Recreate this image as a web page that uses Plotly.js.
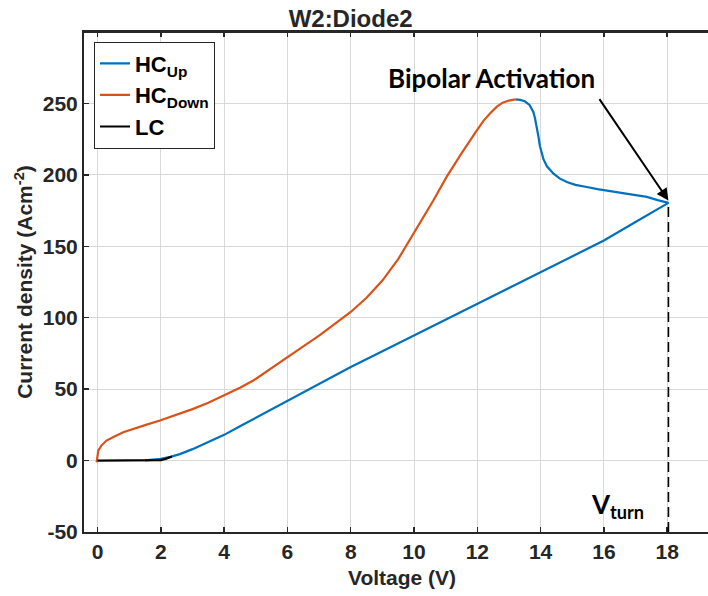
<!DOCTYPE html>
<html>
<head>
<meta charset="utf-8">
<script src="https://cdn.plot.ly/plotly-3.0.1.min.js"></script>
<style>
html,body{margin:0;padding:0;overflow:hidden;background:#fff;}
#chart{width:720px;height:596px;}
</style>
</head>
<body>
<div id="chart"></div>
<script>
// HC_Up (blue) : upward sweep, then back from the turn point to the peak
const hcUpV = [1.5, 1.8, 2.0, 2.3, 2.6, 3.0, 3.5, 4.0, 4.5, 5.0, 5.5, 6.0, 7.0, 8.0, 9.0, 10.0, 11.0, 12.0, 13.0, 14.0, 15.0, 16.0, 17.0, 17.6, 18.04, 17.7, 17.36, 16.8, 16.3, 15.8, 15.46, 15.1, 14.83, 14.6, 14.4, 14.2, 14.09, 14.02, 13.98, 13.93, 13.88, 13.82, 13.77, 13.65, 13.5, 13.35, 13.2];
const hcUpJ = [0.2, 0.5, 1.2, 2.6, 4.5, 8.0, 12.8, 18.0, 24.0, 30.0, 36.0, 42.0, 54.0, 65.5, 76.5, 87.5, 98.5, 109.5, 120.5, 131.5, 142.5, 154.0, 167.0, 174.5, 180.4, 182.3, 184.6, 186.5, 188.0, 190.0, 191.5, 193.0, 195.0, 197.5, 201.0, 206.0, 211.0, 216.0, 220.0, 227.0, 234.0, 240.0, 244.0, 249.0, 251.5, 252.5, 252.8];
// HC_Down (orange)
const hcDownV = [13.2, 13.0, 12.8, 12.61, 12.4, 12.2, 11.98, 11.7, 11.5, 11.24, 11.03, 10.61, 10.0, 9.87, 9.5, 9.0, 8.5, 8.0, 7.5, 7.0, 6.5, 6.0, 5.5, 4.92, 4.5, 3.97, 3.5, 3.0, 2.5, 1.97, 1.5, 1.2, 0.81, 0.5, 0.28, 0.12, 0.02, -0.03];
const hcDownJ = [252.8, 252.0, 250.5, 247.6, 243.0, 238.0, 231.0, 222.0, 215.0, 206.0, 198.6, 182.0, 159.0, 154.0, 141.0, 126.0, 114.0, 104.0, 95.5, 87.5, 80.0, 72.5, 64.5, 56.0, 51.0, 45.6, 40.5, 36.0, 32.0, 28.0, 24.8, 22.5, 19.8, 16.5, 14.0, 10.5, 7.0, -1.2];
// LC (black)
const lcV = [0, 0.5, 1.0, 1.5, 2.0, 2.15, 2.35];
const lcJ = [0, 0, 0, 0, 0.3, 1.2, 2.8];

const xTicks = [0, 2, 4, 6, 8, 10, 12, 14, 16, 18];
const yTicks = [-50, 0, 50, 100, 150, 200, 250];
const turnV = 18.04;
const turnJ = 181;

const axisFont = {family: 'Liberation Sans, Arial, sans-serif', size: 21, color: '#262626'};
const labelFont = {family: 'Lato, Calibri, sans-serif', size: 26, color: '#000'};

const traces = [
  {x: hcUpV, y: hcUpJ, mode: 'lines', name: '<b>HC<sub>Up</sub></b>', line: {color: '#0072BD', width: 2.2}},
  {x: hcDownV, y: hcDownJ, mode: 'lines', name: '<b>HC<sub>Down</sub></b>', line: {color: '#D95319', width: 2.2}},
  {x: lcV, y: lcJ, mode: 'lines', name: '<b>LC</b>', line: {color: '#000000', width: 2.2}}
];

const layout = {
  width: 720, height: 596,
  margin: {l: 84, r: 0, t: 32, b: 64},
  paper_bgcolor: '#fff', plot_bgcolor: '#fff',
  font: {family: 'Liberation Sans, Arial, sans-serif', size: 20, color: '#262626'},
  title: {text: '<b>W2:Diode2</b>', font: {family: 'Liberation Sans, Arial, sans-serif', size: 24, color: '#262626'}, x: 0.487, xanchor: 'center', y: 0.969, yanchor: 'middle'},
  showlegend: true,
  legend: {x: 0.0157, y: 0.981, xanchor: 'left', yanchor: 'top', bgcolor: '#fff', bordercolor: '#262626', borderwidth: 1,
           font: {family: 'Liberation Sans, Arial, sans-serif', size: 22, color: '#000'}, tracegroupgap: 0},
  xaxis: {range: [-0.43, 19.67], tickvals: xTicks, ticktext: xTicks.map(v => '<b>' + v + '</b>'), ticks: 'inside', ticklen: 5, tickwidth: 1.5, tickcolor: '#262626',
          showline: true, linecolor: '#262626', linewidth: 2, mirror: 'ticks', showgrid: true, gridcolor: '#d9d9d9', gridwidth: 1, zeroline: false,
          tickfont: axisFont, title: {text: '<b>Voltage (V)</b>', font: axisFont, standoff: 8}},
  yaxis: {range: [-50, 300], tickvals: yTicks, ticktext: yTicks.map(v => '<b>' + v + '</b>'), ticks: 'inside', ticklen: 5, tickwidth: 1.5, tickcolor: '#262626',
          showline: true, linecolor: '#262626', linewidth: 2, mirror: 'ticks', showgrid: true, gridcolor: '#d9d9d9', gridwidth: 1, zeroline: false,
          tickfont: axisFont, title: {text: '<b>Current density (Acm<sup>-2</sup>)</b>', font: axisFont, standoff: 4}},
  shapes: [
    {type: 'line', xref: 'x', yref: 'y', x0: turnV, x1: turnV, y0: -50, y1: turnJ, line: {color: '#000', width: 1.6, dash: '10px,5px'}},
    {type: 'line', xref: 'x', yref: 'paper', x0: -0.43, x1: 19.67, y0: 1, y1: 1, line: {color: '#262626', width: 2}}
  ],
  annotations: [
    {x: 12.45, y: 268, xref: 'x', yref: 'y', text: '<b>Bipolar Activation</b>', showarrow: false, font: labelFont},
    {x: turnV, y: turnJ + 1, xref: 'x', yref: 'y', ax: -70, ay: -103, text: '', showarrow: true, arrowhead: 2, arrowsize: 1.2, arrowwidth: 2, arrowcolor: '#000'},
    {x: 16.42, y: -31.5, xref: 'x', yref: 'y', text: '<b>V<sub>turn</sub></b>', showarrow: false, font: labelFont}
  ]
};

Plotly.newPlot('chart', traces, layout, {displayModeBar: false, staticPlot: true});
</script>
</body>
</html>
